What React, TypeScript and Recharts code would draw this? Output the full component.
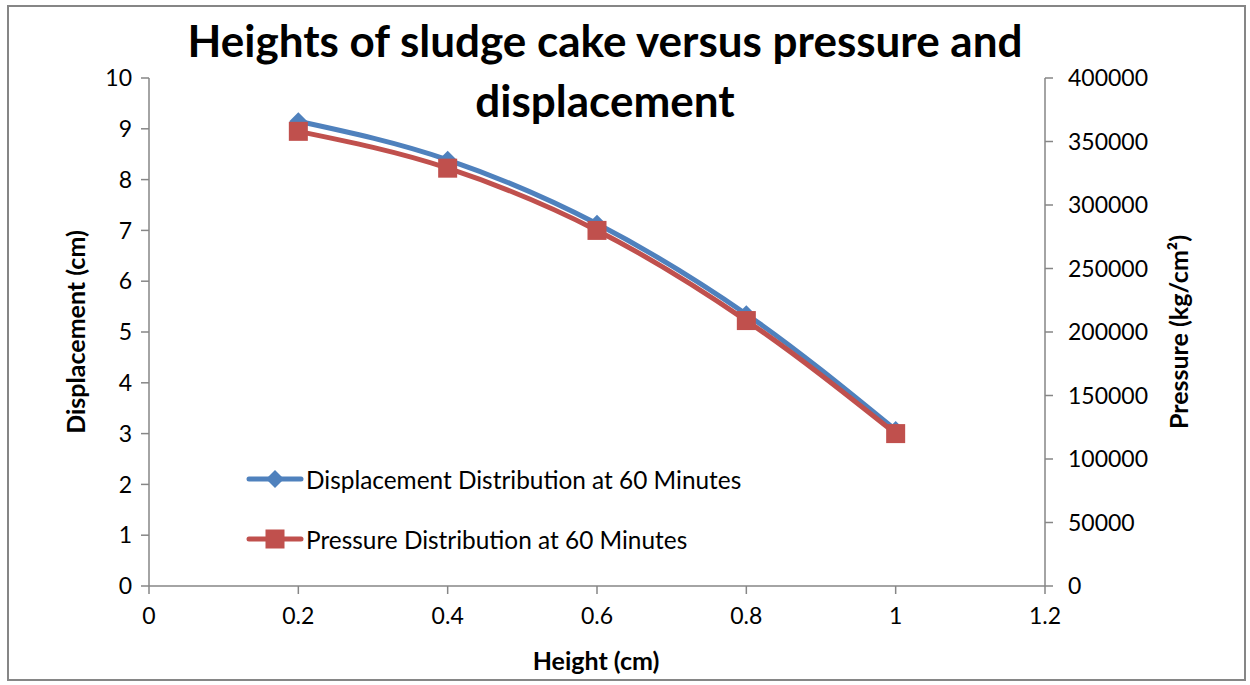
import { LineChart, Line, XAxis, YAxis, Legend } from "recharts";

const heights = [0.2, 0.4, 0.6, 0.8, 1.0];
const displacement = [9.15, 8.39, 7.13, 5.35, 3.07];
const pressure = [358000, 329000, 280000, 209000, 120000];
const xTicks = [0, 0.2, 0.4, 0.6, 0.8, 1, 1.2];
const leftTicks = [0, 1, 2, 3, 4, 5, 6, 7, 8, 9, 10];
const rightTicks = [0, 50000, 100000, 150000, 200000, 250000, 300000, 350000, 400000];

const BLUE = "#4F81BD";
const RED = "#C0504D";
const AXIS = "#868686";
const FONT = "Lato, 'Open Sans', sans-serif";

const data = heights.map((h, i) => ({
  height: h,
  displacement: displacement[i],
  pressure: pressure[i],
}));

function Diamond(props: any) {
  const { cx, cy } = props;
  if (cx == null || cy == null) return null;
  const r = 9;
  return (
    <polygon
      points={`${cx},${cy - r} ${cx + r},${cy} ${cx},${cy + r} ${cx - r},${cy}`}
      fill={BLUE}
    />
  );
}

function Square(props: any) {
  const { cx, cy } = props;
  if (cx == null || cy == null) return null;
  const s = 19;
  return <rect x={cx - s / 2} y={cy - s / 2} width={s} height={s} fill={RED} />;
}

function LegendBox() {
  const rows = [
    { label: "Displacement Distribution at 60 Minutes", color: BLUE, marker: "diamond" },
    { label: "Pressure Distribution at 60 Minutes", color: RED, marker: "square" },
  ];
  return (
    <div style={{ fontFamily: FONT }}>
      {rows.map((r) => (
        <div key={r.label} style={{ display: "flex", alignItems: "center", height: 60 }}>
          <svg width={58} height={24}>
            <line x1={3} y1={12} x2={55} y2={12} stroke={r.color} strokeWidth={5} strokeLinecap="round" />
            {r.marker === "diamond" ? (
              <polygon points="29,3 38,12 29,21 20,12" fill={r.color} />
            ) : (
              <rect x={19.5} y={2.5} width={19} height={19} fill={r.color} />
            )}
          </svg>
          <span style={{ fontSize: 24.4, color: "#000", marginLeft: 2 }}>{r.label}</span>
        </div>
      ))}
    </div>
  );
}

const axisTitle = {
  position: "absolute" as const,
  whiteSpace: "nowrap" as const,
  fontFamily: FONT,
  fontWeight: 700,
  fontSize: 25,
  color: "#000",
};

export default function App() {
  const tick = { fill: "#000", fontSize: 23, fontFamily: FONT };
  return (
    <div style={{ position: "absolute", left: 0, top: 0, width: 1250, height: 685, background: "#fff" }}>
      <div
        style={{
          position: "absolute",
          left: 7,
          top: 5,
          width: 1239,
          height: 676,
          border: `2px solid ${AXIS}`,
          boxSizing: "border-box",
        }}
      />
      <LineChart
        width={1250}
        height={685}
        data={data}
        margin={{ top: 78, right: 85, left: 39, bottom: 59 }}
      >
        <XAxis
          dataKey="height"
          type="number"
          domain={[0, 1.2]}
          ticks={xTicks}
          tickFormatter={(v) => String(v)}
          stroke={AXIS}
          strokeWidth={1.5}
          tickSize={8}
          tickMargin={14}
          height={40}
          tick={tick}
        />
        <YAxis
          yAxisId="left"
          domain={[0, 10]}
          ticks={leftTicks}
          stroke={AXIS}
          strokeWidth={1.5}
          tickSize={8}
          tickMargin={9}
          width={110}
          tick={tick}
        />
        <YAxis
          yAxisId="right"
          orientation="right"
          domain={[0, 400000]}
          ticks={rightTicks}
          stroke={AXIS}
          strokeWidth={1.5}
          tickSize={8}
          tickMargin={15}
          width={120}
          tick={{ ...tick, textAnchor: "start" }}
        />
        <Legend
          layout="horizontal"
          verticalAlign="middle"
          align="center"
          wrapperStyle={{ position: "absolute", left: 246, top: 449, width: 600 }}
          content={() => <LegendBox />}
        />
        <Line
          yAxisId="left"
          type="monotone"
          dataKey="displacement"
          stroke={BLUE}
          strokeWidth={5}
          dot={<Diamond />}
          activeDot={false}
          isAnimationActive={false}
        />
        <Line
          yAxisId="right"
          type="monotone"
          dataKey="pressure"
          stroke={RED}
          strokeWidth={5}
          dot={<Square />}
          activeDot={false}
          isAnimationActive={false}
        />
      </LineChart>
      <div
        style={{
          position: "absolute",
          left: 0,
          top: 10,
          width: 1210,
          textAlign: "center",
          fontFamily: FONT,
          fontWeight: 700,
          fontSize: 44,
          lineHeight: "60px",
          color: "#000",
        }}
      >
        Heights of sludge cake versus pressure and
        <br />
        displacement
      </div>
      <div style={{ ...axisTitle, left: 75, top: 332, transform: "translate(-50%, -50%) rotate(-90deg)" }}>
        Displacement (cm)
      </div>
      <div style={{ ...axisTitle, left: 1178, top: 332, transform: "translate(-50%, -50%) rotate(-90deg)" }}>
        Pressure (kg/cm²)
      </div>
      <div style={{ ...axisTitle, left: 596, top: 660, transform: "translate(-50%, -50%)" }}>
        Height (cm)
      </div>
    </div>
  );
}
